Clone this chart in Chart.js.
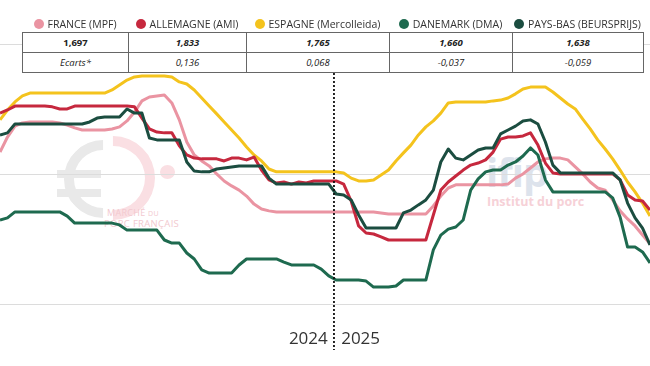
<!DOCTYPE html>
<html>
<head>
<meta charset="utf-8">
<script src="https://cdn.jsdelivr.net/npm/chart.js@4.4.1/dist/chart.umd.min.js"></script>
<style>
  html, body { margin: 0; padding: 0; background: #fff; }
  #wrap { position: relative; width: 650px; height: 366px; overflow: hidden; font-family: 'Open Sans', sans-serif; }
  #myChart { position: absolute; left: 0; top: 0; z-index: 2; }
  .wm { position: absolute; z-index: 1; }
  #legend { position: absolute; left: 22px; top: 17px; z-index: 3; display: flex; }
  #legend div { text-align: center; font-size: 10.5px; color: #333; white-space: nowrap; line-height: 14px; }
  #legend .dot { display: inline-block; width: 10px; height: 10px; border-radius: 50%; vertical-align: -1px; margin-right: 4px; }
  table { position: absolute; left: 22px; top: 32px; z-index: 3; border-collapse: collapse; background: #fff; table-layout: fixed; width: 621px; }
  td { border: 1px solid #666; height: 19px; text-align: center; font-size: 9.5px; color: #222; padding: 0; }
  tr.val td { font-weight: bold; font-style: italic; }
  tr.val td:first-child { font-style: normal; }
  tr.gap td { font-style: italic; }
</style>
</head>
<body>
<div id="wrap">
  <!-- watermarks -->
  <div class="wm" style="left:64px;top:140px;width:58px;height:58px;border:10px solid transparent;border-top-color:#e9e9e9;border-left-color:#e9e9e9;border-radius:50%;transform:rotate(-45deg);"></div>
  <div class="wm" style="left:57px;top:170px;width:44px;height:8px;background:#e9e9e9;"></div>
  <div class="wm" style="left:57px;top:189px;width:44px;height:8px;background:#e9e9e9;"></div>
  <div class="wm" style="left:71px;top:136px;width:64px;height:64px;border:10px solid transparent;border-top-color:#fadfe3;border-right-color:#fadfe3;border-radius:50%;transform:rotate(45deg);"></div>
  <div class="wm" style="left:160px;top:165px;width:15px;height:14px;background:#fadfe3;border-radius:50%;"></div>
  <div class="wm" style="left:107px;top:206px;font-size:9px;color:#f2c9cf;letter-spacing:0.3px;">MARCHÉ <span style="font-size:7px">DU</span></div>
  <div class="wm" style="left:104px;top:217px;font-size:9.5px;color:#f2c9cf;letter-spacing:0.3px;">PORC FRANÇAIS</div>
  <div class="wm" style="left:486px;top:150px;font-size:40px;font-weight:bold;color:#dde3ec;letter-spacing:-1px;line-height:44px;">ifip</div>
  <div class="wm" style="left:487px;top:193px;font-size:12.5px;font-weight:bold;color:#f6d1d7;">Institut du porc</div>

  <canvas id="myChart" width="650" height="366"></canvas>

  <div id="legend"></div>
  <table>
    <colgroup><col style="width:106px"><col style="width:118px"><col style="width:143px"><col style="width:123px"><col style="width:131px"></colgroup>
    <tr class="val" id="rowVal"></tr>
    <tr class="gap" id="rowGap"></tr>
  </table>
</div>
<script>
// séries hebdomadaires : semaine 8 de 2024 -> semaine 43 de 2025
const labels = [];
for (let w = 8; w <= 52; w++) labels.push('S' + w + ' 2024');
for (let w = 1; w <= 43; w++) labels.push('S' + w + ' 2025');

const seriesNames = ['FRANCE (MPF)', 'ALLEMAGNE (AMI)', 'ESPAGNE (Mercolleida)', 'DANEMARK (DMA)', 'PAYS-BAS (BEURSPRIJS)'];
const seriesColors = ['#ea94a2', '#c6283e', '#f4c31d', '#1e6a4f', '#1b4d40'];
const lastValues = ['1,697', '1,833', '1,765', '1,660', '1,638'];
const gaps = ['Ecarts*', '0,136', '0,068', '-0,037', '-0,059'];

const france = [2.088, 2.146, 2.188, 2.200, 2.204, 2.204, 2.204, 2.204, 2.200, 2.192,
  2.181, 2.173, 2.173, 2.173, 2.173, 2.177, 2.185, 2.208, 2.242, 2.285,
  2.300, 2.304, 2.308, 2.277, 2.212, 2.127, 2.077, 2.054, 2.035, 2.004,
  1.977, 1.958, 1.942, 1.919, 1.888, 1.869, 1.862, 1.858, 1.858, 1.858,
  1.858, 1.858, 1.858, 1.858, 1.858, 1.858, 1.858, 1.858, 1.858, 1.858,
  1.858, 1.854, 1.850, 1.850, 1.850, 1.850, 1.850, 1.850, 1.881, 1.919,
  1.950, 1.962, 1.962, 1.962, 1.962, 1.962, 1.962, 1.962, 1.965, 1.988,
  2.004, 2.027, 2.050, 2.062, 2.065, 2.065, 2.058, 2.031, 2.004, 1.973,
  1.950, 1.942, 1.904, 1.862, 1.831, 1.804, 1.769, 1.735];

const allemagne = [2.238, 2.250, 2.265, 2.265, 2.265, 2.265, 2.265, 2.262, 2.254, 2.254,
  2.265, 2.265, 2.265, 2.265, 2.265, 2.265, 2.265, 2.265, 2.262, 2.219,
  2.177, 2.165, 2.162, 2.162, 2.112, 2.077, 2.065, 2.062, 2.062, 2.062,
  2.054, 2.065, 2.065, 2.058, 2.069, 2.019, 1.981, 1.969, 1.973, 1.965,
  1.973, 1.969, 1.977, 1.977, 1.977, 1.977, 1.965, 1.900, 1.804, 1.777,
  1.773, 1.762, 1.750, 1.750, 1.750, 1.750, 1.750, 1.750, 1.846, 1.942,
  1.973, 1.996, 2.019, 2.038, 2.046, 2.058, 2.088, 2.138, 2.146, 2.146,
  2.150, 2.162, 2.115, 2.046, 2.008, 2.004, 2.004, 2.004, 2.004, 2.004,
  2.004, 2.004, 2.004, 1.981, 1.923, 1.904, 1.900, 1.865];

const espagne = [2.212, 2.250, 2.281, 2.304, 2.315, 2.315, 2.315, 2.315, 2.315, 2.315,
  2.315, 2.315, 2.315, 2.315, 2.315, 2.327, 2.346, 2.365, 2.377, 2.381,
  2.381, 2.381, 2.381, 2.377, 2.358, 2.350, 2.327, 2.296, 2.265, 2.235,
  2.204, 2.173, 2.142, 2.108, 2.077, 2.054, 2.023, 2.012, 2.012, 2.012,
  2.012, 2.012, 2.012, 2.012, 2.012, 2.012, 2.008, 1.988, 1.977, 1.977,
  1.981, 2.000, 2.019, 2.054, 2.085, 2.115, 2.154, 2.185, 2.208, 2.238,
  2.277, 2.281, 2.281, 2.281, 2.281, 2.281, 2.285, 2.288, 2.296, 2.312,
  2.331, 2.338, 2.338, 2.338, 2.319, 2.296, 2.273, 2.254, 2.215, 2.177,
  2.135, 2.100, 2.062, 2.019, 1.973, 1.935, 1.892, 1.842];

const danemark = [1.827, 1.835, 1.858, 1.858, 1.858, 1.858, 1.858, 1.858, 1.858, 1.842,
  1.815, 1.815, 1.815, 1.815, 1.815, 1.815, 1.808, 1.788, 1.788, 1.788,
  1.788, 1.788, 1.750, 1.738, 1.738, 1.700, 1.677, 1.635, 1.623, 1.623,
  1.623, 1.623, 1.654, 1.677, 1.677, 1.677, 1.677, 1.677, 1.665, 1.654,
  1.654, 1.654, 1.654, 1.638, 1.612, 1.596, 1.596, 1.596, 1.596, 1.592,
  1.569, 1.569, 1.569, 1.573, 1.596, 1.596, 1.596, 1.596, 1.712, 1.769,
  1.792, 1.800, 1.827, 1.942, 1.985, 2.012, 2.019, 2.019, 2.038, 2.050,
  2.073, 2.104, 2.077, 1.981, 1.935, 1.935, 1.935, 1.935, 1.935, 1.935,
  1.935, 1.935, 1.912, 1.838, 1.723, 1.723, 1.704, 1.662];

const paysBas = [2.154, 2.162, 2.196, 2.196, 2.196, 2.196, 2.196, 2.196, 2.196, 2.196,
  2.196, 2.196, 2.204, 2.219, 2.223, 2.223, 2.223, 2.254, 2.238, 2.238,
  2.142, 2.135, 2.135, 2.135, 2.135, 2.050, 2.015, 2.012, 2.012, 2.023,
  2.027, 2.031, 2.035, 2.035, 2.035, 2.035, 1.988, 1.965, 1.965, 1.965,
  1.965, 1.965, 1.965, 1.965, 1.965, 1.927, 1.923, 1.904, 1.846, 1.796,
  1.796, 1.796, 1.796, 1.796, 1.854, 1.865, 1.885, 1.904, 1.942, 2.050,
  2.100, 2.065, 2.058, 2.077, 2.096, 2.104, 2.104, 2.158, 2.173, 2.188,
  2.208, 2.212, 2.196, 2.127, 2.038, 2.008, 2.008, 2.008, 2.008, 2.008,
  2.008, 2.008, 2.008, 1.981, 1.892, 1.835, 1.796, 1.731];

const gridValues = [1.5, 2.0, 2.5];
const yearTicks = { 'S49 2024': '2024', 'S4 2025': '2025' };
const lastWeek2024 = 'S52 2024';

// legende + tableau
const colWidths = [106, 118, 143, 123, 131];
const legend = document.getElementById('legend');
const rowVal = document.getElementById('rowVal');
const rowGap = document.getElementById('rowGap');
seriesNames.forEach((name, i) => {
    const item = document.createElement('div');
    item.style.width = colWidths[i] + 'px';
    item.innerHTML = '<span class="dot" style="background:' + seriesColors[i] + '"></span>' + name;
    legend.appendChild(item);
    const a = document.createElement('td');
    a.textContent = lastValues[i];
    rowVal.appendChild(a);
    const b = document.createElement('td');
    b.textContent = gaps[i];
    rowGap.appendChild(b);
});

// ligne pointillée entre 2024 et 2025
const yearLine = {
    id: 'yearLine',
    afterDatasetsDraw(chart) {
        const x = chart.scales.x;
        const i = labels.indexOf(lastWeek2024);
        const px = (x.getPixelForValue(i) + x.getPixelForValue(i + 1)) / 2 + 1.5;
        const c = chart.ctx;
        c.save();
        c.strokeStyle = '#111';
        c.lineWidth = 1.8;
        c.setLineDash([2, 2]);
        c.beginPath();
        c.moveTo(px, 73);
        c.lineTo(px, 350);
        c.stroke();
        c.restore();
    }
};

const ctx = document.getElementById('myChart');
const allSeries = [france, allemagne, espagne, danemark, paysBas];
const drawOrder = [4, 2, 3, 1, 0];

new Chart(ctx, {
    type: 'line',
    data: {
        labels,
        datasets: allSeries.map((data, i) => ({
            label: seriesNames[i],
            data,
            borderColor: seriesColors[i],
            backgroundColor: seriesColors[i],
            borderWidth: 3,
            pointRadius: 0,
            tension: 0,
            borderJoinStyle: 'round',
            order: drawOrder[i]
        }))
    },
    options: {
        responsive: false,
        animation: false,
        layout: { padding: 0 },
        scales: {
            x: {
                offset: false,
                // tickLength sert d'ecart sous la zone de tracé (pas de padding lateral)
                grid: { display: false, drawTicks: true, tickLength: 11 },
                border: { display: false },
                ticks: {
                    autoSkip: false,
                    maxRotation: 0,
                    padding: 0,
                    labelOffset: 2,
                    color: '#333',
                    font: { family: "'Open Sans'", size: 17 },
                    callback: (v, i) => yearTicks[labels[i]] || ''
                },
                afterFit: s => { s.height = 48; }
            },
            y: {
                min: 1.45,
                max: 2.673,
                grid: { color: '#dcdcdc', drawTicks: false },
                border: { display: false },
                ticks: { display: false, padding: 0 },
                afterBuildTicks: s => { s.ticks = gridValues.map(v => ({ value: v })); },
                afterFit: s => { s.width = 0; }
            }
        },
        plugins: {
            legend: { display: false },
            tooltip: { enabled: false }
        }
    },
    plugins: [yearLine]
});
</script>
</body>
</html>
